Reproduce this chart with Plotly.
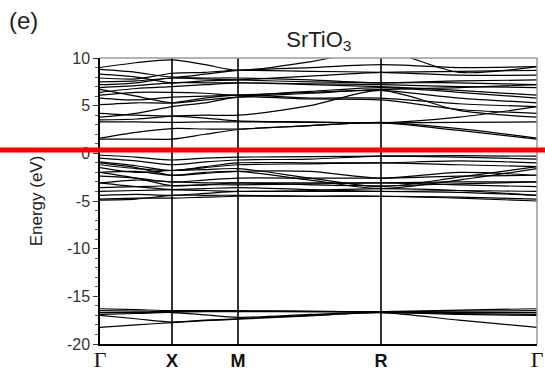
import plotly.graph_objects as go

# k-path coordinates (Γ, Γ-X, X, X-M, M, M-R, R, R-Γ, Γ)
k_path = [0.0, 0.36, 0.72, 1.05, 1.38, 2.10, 2.81, 3.59, 4.37]
sym_pos = [0.0, 0.72, 1.38, 2.81, 4.37]
sym_labels = ["Γ", "X", "M", "R", "Γ"]

# Conduction bands (eV)
cond_bands = [
    [1.5, 1.5, 1.5, 2.0, 2.5, 2.9, 3.2, 2.4, 1.5],
    [1.6, 2.2, 2.6, 2.55, 2.55, 2.9, 3.25, 2.6, 1.6],
    [3.3, 3.3, 3.25, 3.3, 3.3, 3.25, 3.2, 3.25, 3.3],
    [3.5, 3.6, 3.9, 4.0, 4.0, 5.0, 6.6, 4.5, 3.8],
    [3.8, 4.2, 4.9, 5.3, 5.9, 5.7, 5.6, 4.6, 4.2],
    [4.2, 4.0, 3.9, 3.7, 3.4, 3.3, 3.2, 3.8, 4.9],
    [5.1, 5.3, 5.3, 5.8, 6.1, 5.8, 5.8, 5.2, 4.9],
    [5.8, 5.6, 5.9, 6.0, 6.1, 6.4, 6.6, 5.8, 5.3],
    [6.1, 6.4, 6.4, 6.3, 6.1, 6.5, 6.9, 6.4, 5.8],
    [6.4, 6.8, 7.0, 7.2, 7.4, 7.2, 7.0, 6.6, 6.1],
    [6.9, 7.1, 7.4, 7.4, 7.4, 7.3, 7.2, 7.0, 6.9],
    [6.7, 6.0, 5.3, 5.6, 5.9, 6.3, 6.7, 6.9, 7.2],
    [7.2, 7.4, 7.9, 7.8, 7.7, 7.5, 7.4, 7.4, 7.2],
    [7.5, 7.6, 7.9, 7.9, 7.9, 7.7, 7.4, 7.6, 7.7],
    [7.9, 7.8, 8.4, 8.5, 8.7, 8.6, 8.5, 8.2, 8.2],
    [8.3, 8.0, 7.4, 7.6, 7.7, 8.1, 8.5, 8.6, 8.7],
    [8.8, 8.5, 8.0, 8.3, 8.7, 9.0, 9.3, 9.0, 9.1],
    [9.0, 9.5, 9.8, 9.3, 8.7, 9.6, 10.8, 8.5, 9.1],
]

# Valence bands (eV)
val_bands = [
    [-0.2, -0.4, -0.7, -0.5, -0.4, -0.35, -0.3, -0.25, -0.3],
    [-0.5, -0.8, -1.2, -0.9, -0.7, -0.6, -0.3, -0.4, -0.6],
    [-0.9, -1.3, -1.8, -1.4, -1.0, -1.0, -1.0, -0.8, -1.0],
    [-1.2, -1.6, -1.8, -1.5, -1.2, -1.1, -1.0, -1.2, -1.4],
    [-1.5, -2.0, -1.8, -1.7, -1.6, -2.6, -3.5, -2.5, -1.4],
    [-2.0, -1.9, -2.3, -2.0, -1.9, -2.8, -3.7, -2.8, -1.6],
    [-1.0, -1.5, -2.3, -2.1, -1.9, -1.9, -2.6, -2.0, -2.3],
    [-2.4, -2.6, -3.0, -2.8, -2.6, -2.6, -2.6, -2.4, -2.3],
    [-2.0, -2.6, -3.4, -3.3, -3.1, -3.3, -3.4, -3.2, -3.0],
    [-3.1, -2.8, -3.0, -3.1, -3.1, -3.1, -3.1, -3.0, -3.0],
    [-3.6, -3.5, -3.4, -3.3, -3.3, -3.2, -3.1, -3.3, -3.5],
    [-4.0, -3.9, -3.8, -3.7, -3.6, -3.8, -4.0, -3.9, -4.0],
    [-3.1, -3.5, -3.8, -3.9, -4.0, -3.9, -3.7, -3.9, -4.4],
    [-4.4, -4.3, -4.4, -4.2, -4.0, -4.0, -4.0, -4.1, -4.4],
    [-4.8, -4.7, -4.7, -4.6, -4.5, -4.5, -4.5, -4.6, -4.8],
    [-4.9, -4.8, -4.4, -4.4, -4.4, -4.5, -4.5, -4.7, -5.0],
]

# Semicore bands (eV)
core_bands = [
    [-16.3, -16.4, -16.5, -16.5, -16.5, -16.55, -16.6, -16.45, -16.3],
    [-16.5, -16.55, -16.6, -16.55, -16.55, -16.6, -16.6, -16.55, -16.5],
    [-16.7, -16.7, -16.65, -16.6, -16.6, -16.6, -16.65, -16.7, -16.7],
    [-16.9, -16.8, -16.7, -16.95, -17.2, -16.9, -16.65, -16.8, -16.9],
    [-17.0, -17.35, -17.7, -17.5, -17.35, -17.0, -16.7, -16.9, -17.0],
    [-18.25, -18.0, -17.75, -17.55, -17.4, -17.05, -16.7, -17.5, -18.25],
]

E_fermi_line = 0.35
y_min, y_max = -20, 10

fig = go.Figure()
for band in cond_bands + val_bands + core_bands:
    fig.add_trace(go.Scatter(
        x=k_path, y=band, mode="lines",
        line=dict(color="black", width=1.2, shape="spline", smoothing=0.8),
        hoverinfo="skip", showlegend=False,
    ))

shapes = []
# vertical lines at the interior high-symmetry points
for xp in sym_pos[1:-1]:
    shapes.append(dict(type="line", xref="x", yref="paper", x0=xp, x1=xp, y0=0, y1=1,
                       line=dict(color="black", width=1.6)))
# light frame on top and right
shapes.append(dict(type="line", xref="paper", yref="paper", x0=0, x1=1, y0=1, y1=1,
                   line=dict(color="#9a9a9a", width=1.5)))
shapes.append(dict(type="line", xref="paper", yref="paper", x0=1, x1=1, y0=0, y1=1,
                   line=dict(color="#9a9a9a", width=1.5)))
# red reference line across the full width
y_red = (E_fermi_line - y_min) / (y_max - y_min)
shapes.append(dict(type="line", xref="paper", yref="paper", x0=-0.25, x1=1.05,
                   y0=y_red, y1=y_red, line=dict(color="#ff0000", width=5)))

tick_text = []
for lab in sym_labels:
    if lab == "Γ":
        tick_text.append('<span style="font-family:\'Liberation Serif\',serif;font-size:22px">Γ</span>')
    else:
        tick_text.append("<b>" + lab + "</b>")

fig.update_layout(
    width=545, height=373,
    margin=dict(l=100, r=8, t=58, b=29),
    paper_bgcolor="white", plot_bgcolor="white",
    font=dict(family="Arial, Liberation Sans, sans-serif", color="#222"),
    shapes=shapes,
    title=dict(text="SrTiO<sub>3</sub>", x=0.585, xanchor="center",
               y=0.895, yref="container", yanchor="middle",
               font=dict(size=22, color="#222")),
    annotations=[dict(text="(e)", xref="paper", yref="paper", x=-0.213, y=1.13,
                      xanchor="left", yanchor="middle", showarrow=False,
                      font=dict(size=24, color="#222"))],
    xaxis=dict(range=[sym_pos[0], sym_pos[-1]], tickvals=sym_pos, ticktext=tick_text,
               showgrid=False, zeroline=False, showline=True, linecolor="black",
               linewidth=1.5, ticks="", tickfont=dict(size=18, color="#111"),
               automargin=False),
    yaxis=dict(range=[y_min, y_max], tickvals=[-20, -15, -10, -5, 0, 5, 10],
               ticktext=["-20", "-15", "-10", "-5", "0", "5", "10"],
               showgrid=False, zeroline=False, showline=True, linecolor="black",
               linewidth=1.5, ticks="outside", ticklen=5, tickcolor="#333",
               minor=dict(dtick=1, ticks="outside", ticklen=3, tickcolor="#555"),
               tickfont=dict(size=16, color="#333"), automargin=False,
               title=dict(text="Energy (eV)", font=dict(size=17, color="#222"), standoff=20)),
)

fig.write_html("out.html")
